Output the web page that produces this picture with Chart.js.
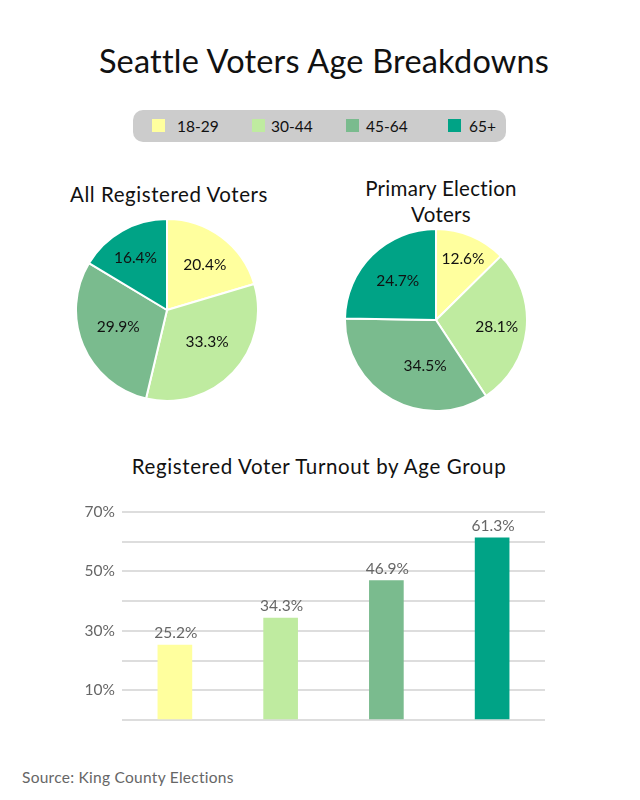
<!DOCTYPE html>
<html lang="en">
<head>
    <meta charset="UTF-8">
    <title>Seattle Voters Age Breakdowns</title>
    <script src="https://cdn.jsdelivr.net/npm/chart.js"></script>
    <style>
        body { margin: 0; background: #fff; font-family: Lato, sans-serif; }
        #page { position: relative; width: 640px; height: 800px; overflow: hidden; }
        #page > * { position: absolute; }
        canvas { display: block; }
        .title { text-align: center; color: #111; }
        #main-title { left: 0; top: 41px; width: 648px; font-size: 32.5px; letter-spacing: 0.2px; line-height: 40px; }
        #pie1-title { left: 47px; top: 181px; width: 244px; font-size: 20.5px; letter-spacing: 0.55px; line-height: 26px; }
        #pie2-title { left: 319px; top: 175px; width: 244px; font-size: 20.5px; letter-spacing: 0.3px; line-height: 26px; }
        #bar-title { left: 79px; top: 453px; width: 480px; font-size: 20.5px; letter-spacing: 0.62px; line-height: 26px; }
        #legend { left: 133px; top: 110px; width: 373px; height: 32px; background: #ccc; border-radius: 10px; }
        #legend span { position: absolute; top: 7px; font-size: 15.5px; line-height: 19px; color: #111; }
        #legend i { position: absolute; top: 9px; width: 13px; height: 13px; }
        #source { left: 22px; top: 768px; font-size: 15.5px; letter-spacing: 0.27px; line-height: 19px; color: #666; }
    </style>
</head>
<body>
<div id="page">
    <div id="main-title" class="title">Seattle Voters Age Breakdowns</div>
    <div id="legend"></div>
    <div id="pie1-title" class="title">All Registered Voters</div>
    <div id="pie2-title" class="title">Primary Election<br>Voters</div>
    <canvas id="pie1" width="184" height="184" style="left:75px;top:218px"></canvas>
    <canvas id="pie2" width="184" height="184" style="left:344px;top:228px"></canvas>
    <div id="bar-title" class="title">Registered Voter Turnout by Age Group</div>
    <canvas id="bars" width="490" height="230" style="left:70px;top:500px"></canvas>
    <div id="source">Source: King County Elections</div>
</div>

<script>
    const ageGroups = ["18-29", "30-44", "45-64", "65+"];
    const registeredShare = [20.4, 33.3, 29.9, 16.4];
    const primaryShare = [12.6, 28.1, 34.5, 24.7];
    const turnout = [25.2, 34.3, 46.9, 61.3];
    const yTickLabels = [10, 30, 50, 70];

    const colors = ["#ffff9e", "#bfeba0", "#7abb8e", "#00a386"];

    // legend swatch / text offsets inside the grey pill
    const legendSwatchX = [19, 119, 213, 315];
    const legendTextX = [44, 138, 233, 336];

    let legend = document.getElementById("legend");
    ageGroups.forEach((age, i) => {
        let box = document.createElement("i");
        box.style.left = legendSwatchX[i] + "px";
        box.style.background = colors[i];
        legend.appendChild(box);
        let text = document.createElement("span");
        text.style.left = legendTextX[i] + "px";
        text.textContent = age;
        legend.appendChild(text);
    });

    // writes the % on each slice, at a share of the radius plus a small nudge
    const sliceLabels = {
        id: "sliceLabels",
        afterDatasetsDraw(chart, args, opts) {
            let ctx = chart.ctx;
            let values = chart.data.datasets[0].data;
            ctx.save();
            ctx.font = "15.5px Lato";
            ctx.fillStyle = "#111";
            ctx.textAlign = "center";
            ctx.textBaseline = "middle";
            chart.getDatasetMeta(0).data.forEach((arc, i) => {
                let mid = (arc.startAngle + arc.endAngle) / 2;
                let r = arc.outerRadius * opts.radius[i];
                let x = arc.x + Math.cos(mid) * r + opts.nudge[i][0];
                let y = arc.y + Math.sin(mid) * r + opts.nudge[i][1];
                ctx.fillText(values[i].toFixed(1) + "%", x, y);
            });
            ctx.restore();
        }
    };

    function makePie(id, values, labelRadius, labelNudge) {
        new Chart(document.getElementById(id), {
            type: "pie",
            data: {
                labels: ageGroups,
                datasets: [{ data: values, backgroundColor: colors, borderColor: "#fff", borderWidth: 2 }]
            },
            options: {
                responsive: false,
                animation: false,
                layout: { padding: 0 },
                plugins: {
                    legend: { display: false },
                    tooltip: { enabled: false },
                    sliceLabels: { radius: labelRadius, nudge: labelNudge }
                }
            },
            plugins: [sliceLabels]
        });
    }

    makePie("pie1", registeredShare, [0.64, 0.56, 0.57, 0.68], [[3, 2], [3, -3], [-1, -3], [-1, 2]]);
    makePie("pie2", primaryShare, [0.74, 0.66, 0.5, 0.6], [[1, 1], [1, 1], [11, 6], [0, 0]]);

    const barLabels = {
        id: "barLabels",
        afterDatasetsDraw(chart) {
            let ctx = chart.ctx;
            ctx.save();
            ctx.font = "15.5px Lato";
            ctx.fillStyle = "#666";
            ctx.textAlign = "center";
            ctx.textBaseline = "bottom";
            chart.getDatasetMeta(0).data.forEach((bar, i) => {
                ctx.fillText(turnout[i].toFixed(1) + "%", bar.x + 1, bar.y - 4);
            });
            ctx.restore();
        }
    };

    new Chart(document.getElementById("bars"), {
        type: "bar",
        data: {
            labels: ageGroups,
            datasets: [{ data: turnout, backgroundColor: colors, barThickness: 34 }]
        },
        options: {
            responsive: false,
            animation: false,
            layout: { padding: { top: 12, right: 15, bottom: 10 } },
            plugins: { legend: { display: false }, tooltip: { enabled: false } },
            scales: {
                x: { display: false },
                y: {
                    min: 0,
                    max: 70,
                    afterFit(axis) {
                        axis.width = 52;
                        axis.paddingTop = 0;
                        axis.paddingBottom = 0;
                    },
                    border: { display: false },
                    grid: { color: "#ddd", lineWidth: 2, drawTicks: false },
                    ticks: {
                        stepSize: 10,
                        padding: 7,
                        color: "#666",
                        font: { family: "Lato", size: 15.5 },
                        callback: v => yTickLabels.includes(v) ? v + "%" : ""
                    }
                }
            }
        },
        plugins: [barLabels]
    });
</script>
</body>
</html>
